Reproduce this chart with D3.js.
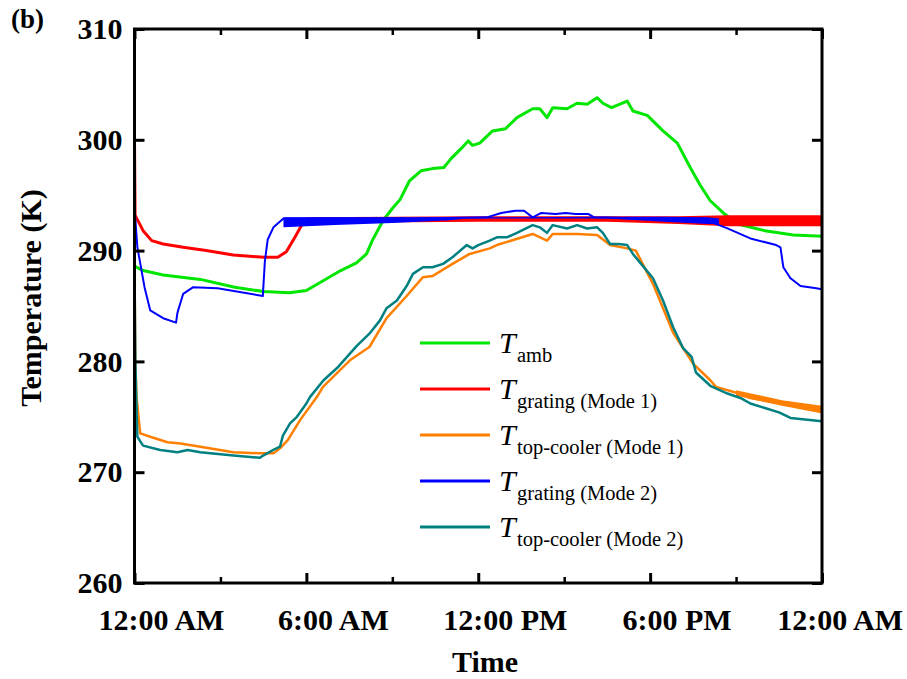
<!DOCTYPE html>
<html>
<head>
<meta charset="utf-8">
<script src="https://cdn.jsdelivr.net/npm/d3@7"></script>
<style>
  body { margin: 0; background: #fff; }
  svg { display: block; }
</style>
</head>
<body>
<div id="chart"></div>
<script>
// hours since midnight, temperature in K
var tAmb = [[0,288.6],[0.3,288.2],[1.0,287.8],[2.3,287.4],[3.5,286.7],[4.5,286.3],[5.4,286.2],[6.0,286.4],[6.6,287.3],[7.2,288.2],[7.75,288.9],[8.1,289.7],[8.3,290.9],[8.55,292.1],[8.7,292.8],[9.0,293.8],[9.27,294.6],[9.6,296.3],[10.0,297.2],[10.4,297.4],[10.8,297.5],[11.05,298.3],[11.4,299.2],[11.65,299.9],[11.8,299.5],[12.05,299.7],[12.5,300.8],[12.95,301.0],[13.35,302.0],[13.9,302.8],[14.15,302.8],[14.4,302.0],[14.6,302.9],[15.1,302.8],[15.45,303.3],[15.8,303.2],[16.15,303.8],[16.35,303.3],[16.65,302.9],[17.2,303.5],[17.4,302.6],[17.9,302.2],[18.45,300.8],[18.95,299.7],[19.4,297.5],[19.75,295.9],[20.1,294.5],[20.6,293.3],[21.05,292.4],[22.0,291.8],[23.0,291.4],[24.0,291.3]];

var tGrating1 = [[0,300],[0.02,293.2],[0.3,291.8],[0.6,290.9],[1.0,290.6],[1.7,290.3],[2.5,290.0],[3.45,289.6],[4.5,289.4],[5.0,289.4],[5.3,289.9],[5.6,291.2],[5.9,292.6],[6.3,292.7],[8,292.8],[10,292.9],[12,292.9],[16,292.9],[18,292.8],[20,292.7],[22,292.7],[24,292.7]];
// envelope of the fast on/off oscillation [hour, low, high]
var tGrating1Band = [[6.0,292.5,293.0],[12,292.6,293.1],[16.5,292.6,293.1],[19,292.4,293.1],[20.7,292.2,293.2],[24,292.2,293.2]];

var tTop1 = [[0,288.5],[0.03,280],[0.07,276.8],[0.2,273.5],[0.55,273.2],[1.15,272.7],[1.6,272.6],[2.3,272.3],[3.45,271.8],[4.4,271.7],[4.85,271.7],[5.1,272.2],[5.35,272.9],[5.78,274.7],[6.37,276.8],[6.58,277.7],[7.52,280.1],[8.2,281.3],[8.8,283.9],[9.5,285.9],[10.07,287.6],[10.4,287.7],[11.1,288.8],[11.7,289.7],[12.4,290.2],[12.65,290.5],[13.9,291.5],[14.4,290.9],[14.6,291.5],[15.45,291.5],[16.15,291.4],[16.6,290.5],[17.2,290.2],[17.5,290.0],[18.1,287.0],[18.8,282.6],[19.5,279.8],[20.1,278.3],[20.3,277.7],[21.1,277.1],[21.5,276.7],[22.6,276.2],[24,275.6]];
var tTop1Band = [[21.0,276.9,277.4],[22.6,276.0,276.5],[24,275.3,276.0]];

var tGrating2 = [[0,300],[0.02,293.2],[0.1,290.3],[0.35,286.7],[0.55,284.6],[1.0,283.9],[1.45,283.5],[1.5,284.4],[1.7,286.1],[2.05,286.7],[2.9,286.6],[4.48,285.9],[4.55,289.0],[4.65,291.0],[4.85,292.1],[5.2,292.9],[7,292.9],[10,292.9],[12.3,293.0],[12.8,293.4],[13.3,293.6],[13.6,293.6],[13.9,293.0],[14.2,293.4],[14.7,293.3],[15.05,293.4],[15.4,293.3],[15.85,293.3],[16.05,293.0],[17,292.95],[19,292.85],[20,292.7],[20.7,292.0],[21.5,291.1],[22.4,290.5],[22.55,290.3],[22.65,288.5],[22.9,287.5],[23.25,286.8],[23.8,286.6],[24,286.5]];
var tGrating2Band = [[5.2,292.1,293.0],[7,292.3,293.0],[9,292.5,293.0],[11,292.75,293.0],[11.6,292.9,293.0],[16.5,292.9,293.05],[18.5,292.6,293.05],[20.0,292.4,293.0],[20.4,292.4,292.9]];

var tTop2 = [[0,288.5],[0.03,280],[0.08,275],[0.1,273.2],[0.3,272.4],[0.9,272.0],[1.5,271.8],[1.85,272.0],[2.3,271.8],[3.45,271.5],[4.38,271.3],[4.49,271.5],[4.83,272.0],[5.08,272.3],[5.18,273.3],[5.43,274.4],[5.67,275.0],[6.0,276.2],[6.13,276.8],[6.6,278.3],[7.07,279.4],[7.52,280.7],[7.76,281.4],[8.2,282.5],[8.57,283.7],[8.8,284.8],[9.16,285.5],[9.5,286.8],[9.72,287.9],[10.07,288.5],[10.4,288.5],[10.77,288.8],[11.1,289.4],[11.6,290.5],[11.8,290.2],[12.0,290.5],[12.4,290.9],[12.65,291.2],[13.0,291.2],[13.35,291.6],[13.9,292.3],[14.15,292.1],[14.4,291.6],[14.6,292.3],[15.1,292.0],[15.45,292.3],[15.8,292.0],[16.15,292.1],[16.35,291.6],[16.6,290.6],[16.9,290.6],[17.2,290.5],[17.4,289.7],[17.75,288.6],[18.1,287.5],[18.45,285.5],[18.8,283.1],[19.15,281.2],[19.45,280.4],[19.6,279.0],[20.1,277.8],[20.7,277.1],[21.15,276.7],[21.5,276.2],[22.5,275.4],[22.9,274.9],[24,274.6]];

var majorHours = [0, 6, 12, 18, 24];
var minorHours = [3, 9, 15, 21];
var xTickLabels = ["12:00 AM", "6:00 AM", "12:00 PM", "6:00 PM", "12:00 AM"];
var yTicks = [260, 270, 280, 290, 300, 310];

(function() {
    var series = [
        {name: "amb", color: "#00e600", width: 3, data: tAmb, band: null},
        {name: "grating (Mode 1)", color: "#ff0000", width: 3, data: tGrating1, band: tGrating1Band},
        {name: "top-cooler (Mode 1)", color: "#ff8000", width: 2.5, data: tTop1, band: tTop1Band},
        {name: "grating (Mode 2)", color: "#0000ff", width: 2, data: tGrating2, band: tGrating2Band},
        {name: "top-cooler (Mode 2)", color: "#008080", width: 2.5, data: tTop2, band: null}
    ];

    var W = 907, H = 679;
    var pL = 134.5, pR = 822, pT = 29, pB = 583; // plot box
    var font = "'Liberation Serif','Times New Roman',serif";

    var svg = d3.select("#chart").append("svg")
        .attr("width", W).attr("height", H);

    var x = d3.scaleLinear().domain([0, 24]).range([pL, pR]);
    var y = d3.scaleLinear().domain([260, 310]).range([pB, pT]);

    svg.append("clipPath").attr("id", "clip")
        .append("rect").attr("x", pL).attr("y", pT)
        .attr("width", pR - pL).attr("height", pB - pT);

    var plot = svg.append("g").attr("clip-path", "url(#clip)");

    series.forEach(function(s) {
        if (s.band) {
            plot.append("path")
                .datum(s.band)
                .attr("d", d3.area().x(function(d){return x(d[0]);}).y0(function(d){return y(d[1]);}).y1(function(d){return y(d[2]);}))
                .attr("fill", s.color);
        }
        plot.append("path")
            .datum(s.data)
            .attr("d", d3.line().x(function(d){return x(d[0]);}).y(function(d){return y(d[1]);}))
            .attr("fill", "none")
            .attr("stroke", s.color)
            .attr("stroke-width", s.width)
            .attr("stroke-linejoin", "round");
    });

    // axes, ticks pointing inward
    function styleAxis(g, w) {
        g.select(".domain").remove();
        g.selectAll(".tick line").attr("stroke", "#000").attr("stroke-width", w);
    }

    svg.append("g").attr("transform", "translate(0," + pB + ")")
        .call(d3.axisBottom(x).tickValues(majorHours).tickSize(-10).tickFormat(""))
        .call(styleAxis, 3);
    svg.append("g").attr("transform", "translate(0," + pB + ")")
        .call(d3.axisBottom(x).tickValues(minorHours).tickSize(-6).tickFormat(""))
        .call(styleAxis, 2.5);
    svg.append("g").attr("transform", "translate(0," + pT + ")")
        .call(d3.axisTop(x).tickValues(majorHours).tickSize(-10).tickFormat(""))
        .call(styleAxis, 3);
    svg.append("g").attr("transform", "translate(0," + pT + ")")
        .call(d3.axisTop(x).tickValues(minorHours).tickSize(-6).tickFormat(""))
        .call(styleAxis, 2.5);
    svg.append("g").attr("transform", "translate(" + pR + ",0)")
        .call(d3.axisRight(y).tickValues(yTicks).tickSize(-10).tickFormat(""))
        .call(styleAxis, 3);

    var yAxis = svg.append("g").attr("transform", "translate(" + pL + ",0)")
        .call(d3.axisLeft(y).tickValues(yTicks).tickSize(-10).tickPadding(12).tickFormat(d3.format("d")))
        .call(styleAxis, 3);
    yAxis.selectAll(".tick text")
        .attr("font-family", font).attr("font-size", "30px").attr("font-weight", "bold")
        .attr("fill", "#000");

    svg.append("rect")
        .attr("x", pL).attr("y", pT)
        .attr("width", pR - pL).attr("height", pB - pT)
        .attr("fill", "none").attr("stroke", "#000").attr("stroke-width", 3);

    // x tick labels sit a little to the right of their ticks
    svg.append("g").selectAll("text")
        .data(majorHours)
        .enter().append("text")
        .text(function(d, i){return xTickLabels[i];})
        .attr("x", function(d){return x(d) + 27;})
        .attr("y", 630)
        .attr("text-anchor", "middle")
        .attr("font-family", font).attr("font-size", "30px").attr("font-weight", "bold")
        .each(function() {
            var b = this.getBBox();
            var cx = +d3.select(this).attr("x");
            if (b.x < 88) d3.select(this).attr("x", cx + (88 - b.x));
            if (b.x + b.width > 903) d3.select(this).attr("x", cx - (b.x + b.width - 903));
        });

    svg.append("text")
        .text("Time")
        .attr("x", 485).attr("y", 672)
        .attr("text-anchor", "middle")
        .attr("font-family", font).attr("font-size", "30px").attr("font-weight", "bold");

    svg.append("text")
        .text("Temperature (K)")
        .attr("transform", "translate(41,298) rotate(-90)")
        .attr("text-anchor", "middle")
        .attr("font-family", font).attr("font-size", "30px").attr("font-weight", "bold");

    svg.append("text")
        .text("(b)")
        .attr("x", 11).attr("y", 28)
        .attr("font-family", font).attr("font-size", "27px").attr("font-weight", "bold");

    // legend
    var legend = svg.append("g");
    series.forEach(function(s, i) {
        var ly = 343 + i * 46;
        legend.append("line")
            .attr("x1", 420).attr("x2", 490).attr("y1", ly).attr("y2", ly)
            .attr("stroke", s.color).attr("stroke-width", 3);
        legend.append("text")
            .text("T")
            .attr("x", 499).attr("y", ly + 10)
            .attr("font-family", font).attr("font-size", "30px").attr("font-style", "italic");
        legend.append("text")
            .text(s.name)
            .attr("x", 517).attr("y", ly + 19)
            .attr("font-family", font).attr("font-size", "20.5px");
    });
})();
</script>
</body>
</html>
